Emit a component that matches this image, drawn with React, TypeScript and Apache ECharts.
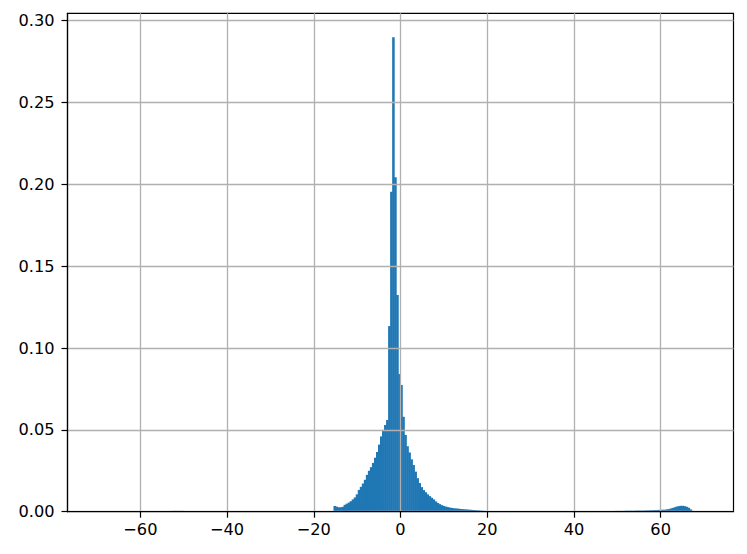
import React, { useEffect, useRef } from "react";
import * as echarts from "echarts";

// Histogram (density) — bin width and bin heights
const binWidth = 140 / 300;

const leftTailStart = -55.067;
const leftTail = [
  0.0002, 0.0003, 0.0003, 0.0004, 0.0004, 0.0005, 0.0005, 0.0005, 0.0005, 0.0005, 0.0005, 0.0004,
  0.0004, 0.0004, 0.0004, 0.0003, 0.0003, 0.0003, 0.0003, 0.0002, 0.0002, 0.0002, 0.0002,
];

const coreStart = -15.4;
const core = [
  0.0035, 0.0031, 0.0027, 0.0027, 0.003, 0.0042, 0.0049, 0.0056, 0.0064, 0.0075, 0.0087, 0.0106,
  0.0133, 0.0152, 0.0172, 0.0195, 0.0225, 0.025, 0.0272, 0.0298, 0.033, 0.0365, 0.041, 0.046,
  0.05, 0.053, 0.056, 0.1134, 0.1955, 0.2898, 0.2043, 0.1324, 0.0841, 0.0774, 0.058, 0.0469,
  0.04, 0.0362, 0.032, 0.0285, 0.0245, 0.0205, 0.0175, 0.015, 0.0132, 0.0119, 0.0106, 0.0095,
  0.0085, 0.0075, 0.0063, 0.0053, 0.0046, 0.004, 0.0035, 0.0031, 0.0028, 0.0025, 0.0023, 0.0021,
  0.002, 0.0019, 0.0017, 0.0016, 0.0015, 0.0014, 0.0013, 0.0012, 0.0011, 0.001, 0.0009, 0.0008,
  0.0007, 0.0006, 0.0005, 0.0004, 0.0004, 0.0003, 0.0003,
];

const rightTailStart = 43.867;
const rightTail = [
  0.0002, 0.0002, 0.0002, 0.0003, 0.0003, 0.0003, 0.0003, 0.0004, 0.0004, 0.0004, 0.0004, 0.0004,
  0.0005, 0.0005, 0.0005, 0.0005, 0.0005, 0.0006, 0.0006, 0.0006, 0.0006, 0.0006, 0.0007, 0.0007,
  0.0007, 0.0007, 0.0007, 0.0008, 0.0008, 0.0009, 0.0009, 0.001, 0.001, 0.0011, 0.0011, 0.0012,
  0.0012, 0.0014, 0.0016, 0.0019, 0.0023, 0.0027, 0.0031, 0.0034, 0.0036, 0.0036, 0.0034, 0.003,
  0.0024, 0.0014, 0.0005,
];

const xTicks = [-60, -40, -20, 0, 20, 40, 60];
const yTicks = [0, 0.05, 0.1, 0.15, 0.2, 0.25, 0.3];
const xMin = -76.8;
const xMax = 76.8;
const yMax = 0.3045;

function segmentBins(start: number, heights: number[]) {
  return heights.map((h, i) => [start + i * binWidth, start + (i + 1) * binWidth, h]);
}

const FONT = "DejaVu Sans";

export default function App() {
  const ref = useRef<HTMLDivElement>(null);
  useEffect(() => {
    if (!ref.current) return;
    const chart = echarts.init(ref.current, null, { renderer: "svg" });
    const bins = [
      ...segmentBins(leftTailStart, leftTail),
      ...segmentBins(coreStart, core),
      ...segmentBins(rightTailStart, rightTail),
    ];
    chart.setOption({
      animation: false,
      backgroundColor: "#ffffff",
      grid: {
        left: 67.5,
        right: 13.5,
        top: 13.3,
        bottom: 42.3,
        show: true,
        borderColor: "#000000",
        borderWidth: 1.2,
        backgroundColor: "transparent",
      },
      xAxis: {
        type: "value",
        min: xMin,
        max: xMax,
        z: 5,
        axisLine: { show: true, onZero: false, lineStyle: { color: "#000", width: 1.2 } },
        axisTick: {
          show: true,
          customValues: xTicks,
          length: 6,
          lineStyle: { color: "#000", width: 1.2 },
        },
        axisLabel: {
          customValues: xTicks,
          margin: 10,
          color: "#000",
          fontFamily: FONT,
          fontSize: 16.2,
          formatter: (v: number) => String(v).replace("-", "\u2212"),
        },
        splitLine: { show: true, lineStyle: { color: "#b0b0b0", width: 1.3 } },
      },
      yAxis: {
        type: "value",
        min: 0,
        max: yMax,
        z: 5,
        axisLine: { show: true, onZero: false, lineStyle: { color: "#000", width: 1.2 } },
        axisTick: {
          show: true,
          customValues: yTicks,
          length: 6,
          lineStyle: { color: "#000", width: 1.2 },
        },
        axisLabel: {
          customValues: yTicks,
          margin: 13,
          color: "#000",
          fontFamily: FONT,
          fontSize: 16.2,
          formatter: (v: number) => v.toFixed(2),
        },
        splitLine: { show: true, lineStyle: { color: "#b0b0b0", width: 1.3 } },
      },
      series: [
        {
          type: "custom",
          z: 2,
          data: bins,
          encode: { x: [0, 1], y: 2 },
          renderItem: (params: any, api: any) => {
            const x0 = api.value(0);
            const x1 = api.value(1);
            const h = api.value(2);
            const p0 = api.coord([x0, h]);
            const p1 = api.coord([x1, 0]);
            return {
              type: "rect",
              shape: {
                x: p0[0] - 0.25,
                y: p0[1],
                width: p1[0] - p0[0] + 0.5,
                height: p1[1] - p0[1],
              },
              style: { fill: "#1f77b4" },
            };
          },
        },
      ],
    });
    return () => chart.dispose();
  }, []);
  return (
    <div
      ref={ref}
      style={{ position: "fixed", left: 0, top: 0, width: 747, height: 554, background: "#fff" }}
    />
  );
}
